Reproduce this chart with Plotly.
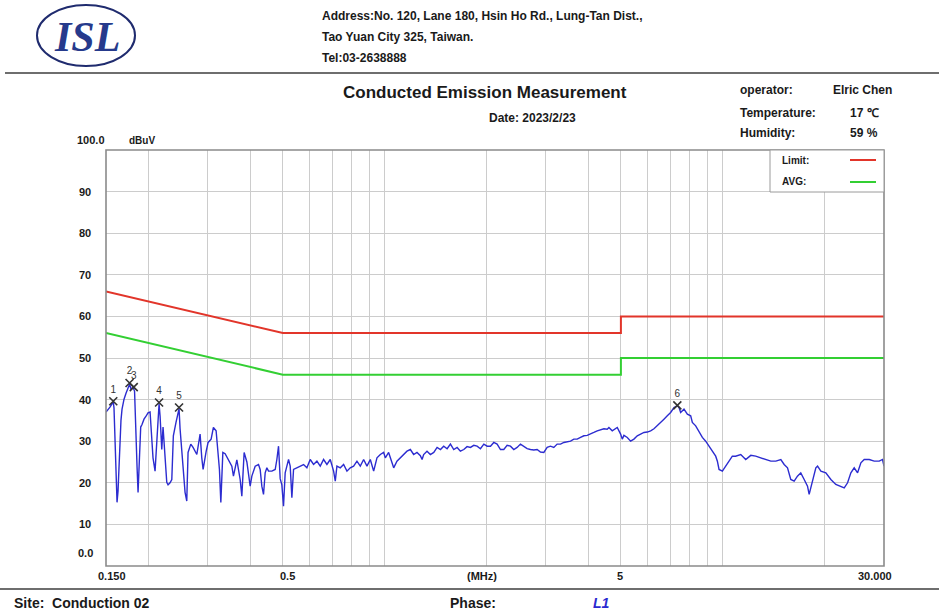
import math
import plotly.graph_objects as go

# ---- page geometry (pixels) ----
W, H = 939, 615
ML, MR, MT, MB = 106, 55, 150, 49
PW, PH = W - ML - MR, H - MT - MB

# ---- measured spectrum, L1 phase (MHz, dBuV) ----
freq_mhz = [
    0.1500, 0.1521, 0.1541, 0.1563, 0.1576, 0.1584, 0.1595, 0.1606, 0.1617, 0.1628,
    0.1639, 0.1650, 0.1661, 0.1673, 0.1696, 0.1719, 0.1743, 0.1761, 0.1779, 0.1803,
    0.1822, 0.1840, 0.1853, 0.1866, 0.1878, 0.1900, 0.1917, 0.1943, 0.1970, 0.1997,
    0.2025, 0.2048, 0.2066, 0.2095, 0.2124, 0.2153, 0.2168, 0.2193, 0.2212, 0.2235,
    0.2269, 0.2289, 0.2320, 0.2348, 0.2373, 0.2417, 0.2451, 0.2467, 0.2484, 0.2513,
    0.2535, 0.2570, 0.2600, 0.2623, 0.2672, 0.2714, 0.2784, 0.2847, 0.2880, 0.2906,
    0.2966, 0.3007, 0.3069, 0.3117, 0.3175, 0.3204, 0.3248, 0.3279, 0.3324, 0.3376,
    0.3453, 0.3534, 0.3573, 0.3657, 0.3740, 0.3783, 0.3843, 0.3915,
    0.4004, 0.4050, 0.4143, 0.4238, 0.4286, 0.4335, 0.4385, 0.4435, 0.4486, 0.4537,
    0.4641, 0.4748, 0.4802, 0.4857, 0.4912, 0.4968, 0.5025, 0.5082, 0.5141, 0.5200,
    0.5259, 0.5319, 0.5380, 0.5504, 0.5630, 0.5760, 0.5892, 0.6027, 0.6166, 0.6308,
    0.6453, 0.6601, 0.6753, 0.6908, 0.7067, 0.7148, 0.7229, 0.7396, 0.7566, 0.7740,
    0.7917, 0.8099, 0.8285, 0.8476, 0.8671, 0.8870, 0.9074, 0.9283, 0.9496, 0.9714,
    0.9938, 1.0052, 1.028, 1.052, 1.064, 1.088, 1.113, 1.139, 1.165, 1.192,
    1.219, 1.247, 1.276, 1.291, 1.305, 1.335, 1.366, 1.398, 1.430, 1.463,
    1.496, 1.531, 1.566, 1.602, 1.639, 1.676, 1.715, 1.754, 1.795, 1.836,
    1.878, 1.921, 1.966, 2.011, 2.057, 2.104, 2.152, 2.202, 2.252, 2.304,
    2.357, 2.411, 2.466, 2.523, 2.581, 2.640, 2.701, 2.763, 2.826, 2.891,
    2.958, 3.026, 3.095, 3.166, 3.239, 3.314, 3.390, 3.468, 3.548, 3.629,
    3.713, 3.798, 3.885, 3.975, 4.066, 4.159, 4.256, 4.353, 4.454, 4.556,
    4.608, 4.714, 4.877, 4.990, 5.047, 5.104, 5.222, 5.342, 5.464, 5.590,
    5.719, 5.850, 5.984, 6.122, 6.263, 6.406, 6.554, 6.704, 6.858, 7.016,
    7.178, 7.343, 7.427, 7.511, 7.684, 7.861, 8.042, 8.134, 8.321, 8.512,
    8.707, 8.907, 9.113, 9.321, 9.535, 9.645, 9.755, 9.979, 10.21, 10.45,
    10.68, 10.92, 11.31, 11.70, 12.11, 12.52, 12.96, 13.41, 13.88, 14.36,
    14.86, 15.20, 15.55, 15.90, 16.27, 16.64, 17.02, 17.42, 17.82, 18.02,
    18.44, 18.86, 19.08, 19.52, 20.19, 20.89, 21.61, 22.37, 22.88, 23.41,
    23.94, 24.49, 25.06, 25.63, 26.22, 27.13, 28.07, 29.04, 29.70, 30.00,
]
level_dbuv = [
    37.0, 37.5, 38.2, 39.0, 39.4, 38.0, 30.0, 22.0, 15.3, 18.0,
    24.0, 29.7, 35.0, 37.7, 40.1, 41.5, 42.8, 43.7, 42.5, 43.0,
    42.0, 28.8, 24.0, 17.7, 25.0, 33.4, 34.0, 35.3, 36.0, 36.8,
    37.0, 28.8, 26.0, 22.8, 30.0, 39.0, 36.0, 28.0, 33.4, 27.0,
    20.1, 19.5, 20.0, 20.8, 31.3, 34.6, 36.5, 37.8, 33.0, 27.3,
    22.0, 17.7, 15.6, 27.3, 29.3, 28.5, 26.8, 31.7, 26.0, 23.2,
    27.5, 29.7, 30.5, 33.3, 32.5, 29.0, 23.2, 15.3, 27.3, 27.0,
    25.6, 24.0, 21.6, 25.5, 20.8, 16.8, 27.3, 25.0,
    19.2, 21.6, 24.0, 24.4, 23.2, 19.2, 17.2, 22.4, 23.6, 22.8,
    22.8, 23.2, 25.6, 28.8, 21.0, 19.5, 14.4, 22.4, 24.0, 25.6,
    24.0, 16.4, 23.2, 23.6, 24.0, 24.4, 23.6, 25.6, 24.4, 25.2,
    24.0, 25.6, 24.4, 25.6, 22.8, 20.4, 24.0, 23.6, 24.4, 22.8,
    23.6, 24.0, 25.2, 24.0, 25.6, 24.0, 25.6, 22.8, 26.0, 26.8,
    27.3, 26.0, 27.3, 24.8, 23.6, 25.2, 26.0, 26.8, 27.6, 28.0,
    26.8, 27.3, 26.5, 25.6, 26.8, 27.6, 26.8, 27.3, 28.5, 28.0,
    28.8, 28.2, 29.3, 28.0, 28.5, 27.6, 28.0, 28.7, 28.5, 29.0,
    28.8, 28.2, 29.3, 28.8, 28.8, 29.7, 29.3, 28.0, 28.0, 29.0,
    28.8, 28.0, 28.5, 29.3, 28.8, 28.2, 28.0, 27.9, 28.0, 27.4,
    27.3, 28.5, 28.8, 28.5, 29.3, 29.3, 29.7, 29.8, 30.0, 30.5,
    30.5, 30.9, 31.3, 31.4, 31.7, 32.1, 32.5, 32.7, 33.0, 32.9,
    33.3, 32.5, 33.3, 31.7, 30.5, 31.4, 30.9, 30.0, 30.5, 31.3,
    31.7, 32.1, 32.2, 32.5, 33.0, 33.7, 34.5, 35.3, 36.1, 36.9,
    38.1, 38.5, 38.1, 36.9, 37.7, 36.5, 36.1, 34.5, 33.7, 32.1,
    30.9, 30.0, 28.8, 27.6, 26.4, 25.2, 23.2, 22.8, 24.0, 25.2,
    26.4, 26.4, 26.8, 25.6, 26.6, 26.4, 26.0, 25.6, 25.2, 25.2,
    25.6, 24.4, 23.6, 20.8, 20.4, 21.6, 22.4, 20.8, 19.2, 17.2,
    20.8, 23.6, 24.0, 22.8, 22.4, 20.8, 19.6, 19.2, 18.8, 20.0,
    22.4, 23.6, 22.4, 24.8, 25.6, 25.6, 25.2, 25.2, 25.6, 24.0,
]

# ---- limit lines ----
limit_freq = [0.15, 0.5, 5, 5, 30]
qp_limit = [66, 56, 56, 60, 60]
avg_limit = [56, 46, 46, 50, 50]

# ---- peak markers ----
marker_no = ["1", "2", "3", "4", "5", "6"]
marker_freq = [0.1576, 0.1761, 0.1812, 0.2153, 0.2467, 7.343]
marker_level = [39.6, 44.0, 43.0, 39.3, 38.1, 38.6]

# ---- axis grid and labels ----
x_grid = [0.2, 0.3, 0.4, 0.5, 0.6, 0.7, 0.8, 0.9, 1, 2, 3, 4, 5, 6, 7, 8, 9, 10, 20]
y_grid = [10, 20, 30, 40, 50, 60, 70, 80, 90]
x_label_text = ["0.150", "0.5", "(MHz)", "5", "30.000"]
x_label_px = [112, 287, 482, 620, 875]
y_label_text = ["10", "20", "30", "40", "50", "60", "70", "80", "90"]

FONT = "Liberation Sans, Arial, sans-serif"
TXT = "#1a1a1a"
RED = "#e2352a"
GREEN = "#33cf33"


def px(x, y):
    """pixel position on the page -> paper coordinates"""
    return (x - ML) / PW, (H - MB - y) / PH


fig = go.Figure()

fig.add_trace(go.Scatter(
    x=freq_mhz, y=level_dbuv, mode="lines",
    line=dict(color="#2c2cd0", width=1.4), hoverinfo="skip", showlegend=False,
))
fig.add_trace(go.Scatter(
    x=limit_freq, y=qp_limit, mode="lines",
    line=dict(color=RED, width=2), name="Limit", showlegend=False,
))
fig.add_trace(go.Scatter(
    x=limit_freq, y=avg_limit, mode="lines",
    line=dict(color=GREEN, width=2), name="AVG", showlegend=False,
))
fig.add_trace(go.Scatter(
    x=marker_freq, y=marker_level, mode="markers+text",
    text=marker_no, textposition="top center",
    textfont=dict(family=FONT, size=10, color="#333333"),
    marker=dict(symbol="x-thin-open", size=8, color="#333333",
                line=dict(color="#333333", width=1.6)),
    showlegend=False, hoverinfo="skip",
))

shapes = []
annotations = []

# plot frame
shapes.append(dict(type="rect", xref="paper", yref="paper", x0=0, y0=0, x1=1, y1=1,
                   line=dict(color="#8a8a8a", width=1.6), layer="above"))

# legend box
lx0, ly0 = px(770, 192)
shapes.append(dict(type="rect", xref="paper", yref="paper", x0=lx0, y0=ly0, x1=1, y1=1,
                   line=dict(color="#9a9a9a", width=1), fillcolor="white", layer="above"))
for yy, col in ((160, RED), (182, GREEN)):
    a, b = px(850, yy)
    c, _ = px(876, yy)
    shapes.append(dict(type="line", xref="paper", yref="paper", x0=a, y0=b, x1=c, y1=b,
                       line=dict(color=col, width=2), layer="above"))
for txt, yy in (("Limit:", 160), ("AVG:", 182)):
    a, b = px(780, yy)
    annotations.append(dict(text=txt, x=a, y=b, xref="paper", yref="paper", showarrow=False,
                            xanchor="left", yanchor="middle",
                            font=dict(family=FONT, size=10, color=TXT, weight="bold")))

# header / footer rules
for yy, xa, xb in ((73, 5, 939), (589, 0, 939)):
    a, b = px(xa, yy)
    c, _ = px(xb, yy)
    shapes.append(dict(type="line", xref="paper", yref="paper", x0=a, y0=b, x1=c, y1=b,
                       line=dict(color="#6e6e6e", width=2)))

# logo
a, b = px(37, 66)
c, d = px(135, 5)
shapes.append(dict(type="circle", xref="paper", yref="paper", x0=a, y0=b, x1=c, y1=d,
                   line=dict(color="#1f2b6e", width=2)))
a, b = px(87, 37)
annotations.append(dict(text="ISL", x=a, y=b, xref="paper", yref="paper", showarrow=False,
                        xanchor="center", yanchor="middle",
                        font=dict(family="Liberation Serif, serif", size=42, color="#263a8c",
                                  weight="bold", style="italic")))


def label(text, x, y, size=12, anchor="left", color=TXT, bold=True, italic=False, family=FONT):
    a, b = px(x, y)
    f = dict(family=family, size=size, color=color)
    if bold:
        f["weight"] = "bold"
    if italic:
        f["style"] = "italic"
    annotations.append(dict(text=text, x=a, y=b, xref="paper", yref="paper", showarrow=False,
                            xanchor=anchor, yanchor="middle", font=f))


# address block
label("Address:No. 120, Lane 180, Hsin Ho Rd., Lung-Tan Dist.,", 320, 16)
label("Tao Yuan City 325, Taiwan.", 320, 37)
label("Tel:03-2638888", 320, 58)

# title block
label("Conducted Emission Measurement", 485, 93, size=17, anchor="center")
label("Date: 2023/2/23", 532, 118, size=12, anchor="center")
label("operator:", 738, 90)
label("Elric Chen", 894, 90, anchor="right")
label("Temperature:", 738, 113)
label("17 ℃", 848, 113)
label("Humidity:", 738, 133)
label("59 %", 848, 133)

# axis labels
label("100.0", 75, 140, size=11)
label("dBuV", 127, 140, size=10)
for t in y_label_text:
    v = float(t)
    annotations.append(dict(text=t, x=px(93, 0)[0], y=v, xref="paper", yref="y",
                            showarrow=False, xanchor="right", yanchor="middle",
                            font=dict(family=FONT, size=11, color=TXT, weight="bold")))
label("0.0", 95, 553, size=11, anchor="right")
for t, xx in zip(x_label_text, x_label_px):
    label(t, xx, 576, size=11, anchor="center")

# footer
label("Site:  Conduction 02", 12, 603, size=14)
label("Phase:", 448, 603, size=14)
label("L1", 591, 603, size=14, color="#2a2ad0", italic=True)

fig.update_layout(
    width=W, height=H,
    margin=dict(l=ML, r=MR, t=MT, b=MB, autoexpand=False),
    paper_bgcolor="white", plot_bgcolor="white",
    showlegend=False,
    xaxis=dict(type="log", range=[math.log10(0.15), math.log10(30)],
               tickvals=x_grid, showticklabels=False, ticks="",
               showgrid=True, gridcolor="#cccccc", gridwidth=1,
               zeroline=False, showline=False),
    yaxis=dict(range=[0, 100], tickvals=y_grid, showticklabels=False, ticks="",
               showgrid=True, gridcolor="#cccccc", gridwidth=1,
               zeroline=False, showline=False),
    shapes=shapes,
    annotations=annotations,
)

fig.write_html("out.html")
